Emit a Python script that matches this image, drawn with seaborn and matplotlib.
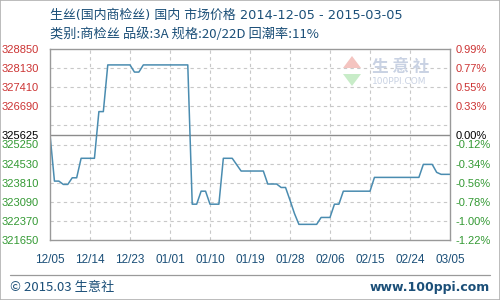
import numpy as np
import pandas as pd
import matplotlib
matplotlib.use("Agg")
import matplotlib.pyplot as plt
from matplotlib.patches import Rectangle, Polygon
from matplotlib.lines import Line2D
import seaborn as sns

# ---------------- data ----------------
title_line1 = "生丝(国内商检丝) 国内 市场价格 2014-12-05 - 2015-03-05"
title_line2 = "类别:商检丝 品级:3A 规格:20/22D 回潮率:11%"
start_date = "2014-12-05"
end_date = "2015-03-05"
base_price = 325625
prices = (
    [325625, 323870, 323870, 323745, 323745, 323995, 323995, 324730, 324730, 324730,
     324730, 326490, 326490]
    + [328250] * 6
    + [327980, 327980]
    + [328250] * 11
    + [323000, 323000, 323490, 323490, 323000, 323000, 323000,
       324730, 324730, 324730, 324490]
    + [324250] * 6
    + [323760, 323760, 323760, 323630, 323630, 323150, 322650]
    + [322240] * 5
    + [322500, 322500, 322500, 323000, 323000]
    + [323490] * 7
    + [324010] * 11
    + [324500, 324500, 324500, 324200, 324125, 324125, 324125]
)
left_ticks = [328850, 328130, 327410, 326690, 325625, 325250, 324530,
              323810, 323090, 322370, 321650]
grid_levels = [328130, 327410, 326690, 325970, 325250, 324530, 323810,
               323090, 322370]
xtick_labels = ["12/05", "12/14", "12/23", "01/01", "01/10", "01/19",
                "01/28", "02/06", "02/15", "02/24", "03/05"]
footer_left = "© 2015.03 生意社"
footer_right = "www.100ppi.com"

dates = pd.date_range(start_date, end_date, freq="D")
df = pd.DataFrame({"date": dates, "price": prices})

# ---------------- style ----------------
sns.set_style("white")
plt.rcParams["font.family"] = ["DejaVu Sans", "Noto Sans CJK SC"]
cjk = ["Noto Sans CJK SC", "DejaVu Sans"]
lat_cjk = ["DejaVu Sans", "Noto Sans CJK SC"]
tickfont = "Liberation Sans"

W, H = 500, 300
fig = plt.figure(figsize=(5, 3), dpi=100)
fig.patch.set_facecolor("white")

ax = fig.add_axes([50 / W, 1 - 240 / H, 400 / W, 191 / H])
sns.lineplot(data=df, x="date", y="price", ax=ax, color="#4a8cb0",
             linewidth=1.1, legend=False)

ymin, ymax = 321650, 328850
ax.set_ylim(ymin, ymax)
ax.set_xlim(dates[0], dates[-1])

# grid
for g in grid_levels:
    ax.axhline(g, color="#c8c8c8", linewidth=0.8, linestyle=(0, (3, 3)), zorder=0)
tick_dates = pd.date_range(start_date, end_date, freq="9D")
for d in tick_dates[1:-1]:
    ax.axvline(d, color="#c8c8c8", linewidth=0.8, linestyle=(0, (3, 3)), zorder=0)
ax.axhline(base_price, color="#8c8c8c", linewidth=1.0, zorder=1)

for s in ax.spines.values():
    s.set_color("#999999")
    s.set_linewidth(1.0)

ax.set_xlabel("")
ax.set_ylabel("")
ax.set_xticks(tick_dates)
ax.set_xticklabels(xtick_labels, fontfamily=tickfont)
ax.tick_params(axis="x", length=0, pad=10, labelsize=8.5, labelcolor="#1b4f78")

ax.set_yticks(left_ticks)
ax.set_yticklabels([str(v) for v in left_ticks], fontfamily=tickfont)
ax.tick_params(axis="y", length=0, pad=8, labelsize=8)

def col(v):
    if v > base_price:
        return "#cc3333"
    if v < base_price:
        return "#339933"
    return "#000000"

for lab, v in zip(ax.get_yticklabels(), left_ticks):
    lab.set_color(col(v))

ax2 = ax.twinx()
ax2.set_ylim(ymin, ymax)
ax2.set_yticks(left_ticks)
pct = []
for v in left_ticks:
    p = (v - base_price) / base_price * 100
    pct.append(f"{p:.2f}%".replace("-0.00", "0.00"))
ax2.set_yticklabels(pct, fontfamily=tickfont)
ax2.tick_params(axis="y", length=0, pad=4, labelsize=8)
for lab, v in zip(ax2.get_yticklabels(), left_ticks):
    lab.set_color(col(v))
for s in ax2.spines.values():
    s.set_visible(False)
ax2.grid(False)

# titles
fig.text(50 / W, 1 - 15 / H, title_line1, family=lat_cjk, fontsize=9.3,
         color="#1b4f78", va="center", ha="left")
fig.text(50 / W, 1 - 34 / H, title_line2, family=cjk, fontsize=9.5,
         color="#1b4f78", va="center", ha="left")

# watermark in plot
fig.patches.append(Polygon([[343 / W, 1 - 68 / H], [352 / W, 1 - 56 / H], [361 / W, 1 - 68 / H]],
                           closed=True, transform=fig.transFigure, facecolor="#f4c4c0",
                           edgecolor="none", zorder=5))
fig.patches.append(Polygon([[343 / W, 1 - 74 / H], [352 / W, 1 - 86 / H], [361 / W, 1 - 74 / H]],
                           closed=True, transform=fig.transFigure, facecolor="#c8ecc8",
                           edgecolor="none", zorder=5))
fig.text(372 / W, 1 - 67 / H, "生 意 社", family=cjk, fontsize=12, color="#c9d2e3",
         va="center", ha="left", fontweight="bold", zorder=5)
fig.text(372 / W, 1 - 81 / H, "100PPI.COM", fontsize=6.5, color="#c9d2e3",
         va="center", ha="left", zorder=5)

# footer
fig.add_artist(Line2D([10 / W, 490 / W], [1 - 275 / H, 1 - 275 / H],
                      transform=fig.transFigure, color="#9a9a9a", linewidth=0.9))
fig.text(10 / W, 1 - 287 / H, footer_left, family=cjk, fontsize=9.5,
         color="#1b4f78", va="center", ha="left")
fig.text(490 / W, 1 - 287 / H, footer_right, fontsize=9, color="#1b4f78",
         va="center", ha="right", fontweight="bold")

# outer border
fig.patches.append(Rectangle((0, 0), 1, 1, transform=fig.transFigure, fill=False,
                             edgecolor="#b0b0b0", linewidth=1.2))

fig.savefig("out.png", dpi=100)
